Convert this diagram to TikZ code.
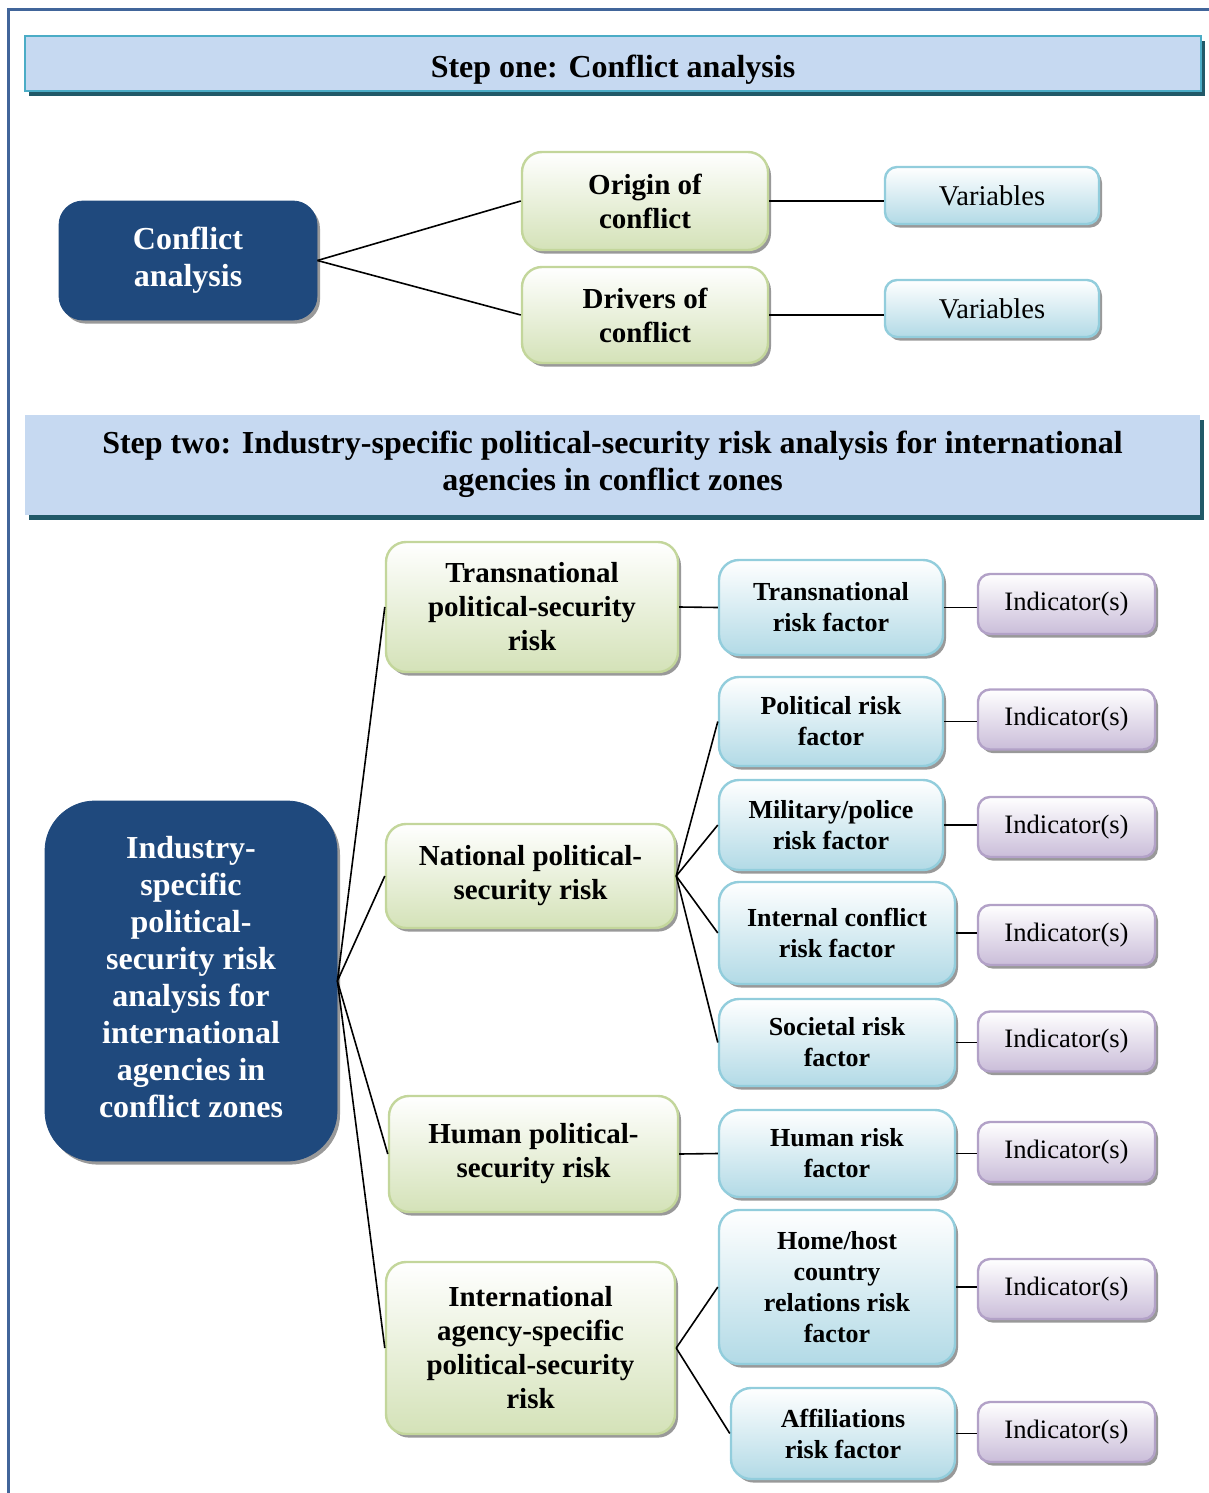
\documentclass[tikz,border=0pt]{standalone}
\usepackage{fontspec}
\setmainfont{Liberation Serif}
\usetikzlibrary{shadows}
\definecolor{framecol}{HTML}{41659A}
\definecolor{hdrfill}{HTML}{C6D9F1}
\definecolor{hdrborder}{HTML}{4BACC6}
\definecolor{hdrshadow}{HTML}{215968}
\definecolor{navy}{HTML}{1F497D}
\definecolor{grfill}{HTML}{D4E2B8}
\definecolor{grborder}{HTML}{C3D69B}
\definecolor{blfill}{HTML}{B2DAE6}
\definecolor{blborder}{HTML}{92CDDC}
\definecolor{pufill}{HTML}{CABDD9}
\definecolor{puborder}{HTML}{B2A1C7}
\begin{document}
\begin{tikzpicture}[x=0.5pt,y=-0.5pt,
  nshadow/.style={drop shadow={shadow xshift=1.5pt, shadow yshift=-1.8pt, fill=black!40, opacity=1}},
  hdr/.style={fill=hdrfill, inner sep=0pt, align=center,
    font=\bfseries\fontsize{16}{18.5}\selectfont,
    drop shadow={shadow xshift=2pt, shadow yshift=-2.5pt, fill=hdrshadow, opacity=1}},
  darkbox/.style={fill=navy, draw=navy, text=white, inner sep=0pt, align=center,
    font=\bfseries\fontsize{16}{18.5}\selectfont, nshadow},
  greenbox/.style={draw=grborder, line width=1.2pt, top color=white, bottom color=grfill,
    rounded corners=10pt, inner sep=0pt, align=center,
    font=\bfseries\fontsize{14.5}{17}\selectfont, nshadow},
  bluebox/.style={draw=blborder, line width=1.2pt, top color=white, bottom color=blfill,
    rounded corners=10pt, inner sep=0pt, align=center,
    font=\bfseries\fontsize{13}{15.5}\selectfont, nshadow},
  varbox/.style={draw=blborder, line width=1.2pt, top color=white, bottom color=blfill,
    rounded corners=6pt, inner sep=0pt, align=center,
    font=\fontsize{14.3}{17}\selectfont, minimum width=107pt, minimum height=28.5pt, nshadow},
  indbox/.style={draw=puborder, line width=1.2pt, top color=white, bottom color=pufill,
    rounded corners=6pt, inner sep=0pt, align=center,
    font=\fontsize{13.3}{16}\selectfont, minimum width=88.5pt, minimum height=30pt, nshadow},
  conn/.style={draw=black, line width=0.8pt}
]
\useasboundingbox (0,0) rectangle (1209,1493);
% outer frame
\coordinate (frTL) at (8.5,9.5);
\coordinate (frTR) at (1209,9.5);
\coordinate (frBL) at (8.5,1493);
\draw[framecol, line width=1.2pt] (frTR) -- (frTL) -- (frBL);

% Step one
\node[hdr, draw=hdrborder, line width=1pt, minimum width=588pt, minimum height=27.5pt] (h1) at (613,63.5) {\raisebox{-7.25pt}[0pt][0pt]{Step one: Conflict analysis}};
\node[darkbox, rounded corners=12pt, minimum width=129pt, minimum height=59.5pt] (ca) at (188,260.5) {Conflict\\analysis};
\node[greenbox, minimum width=123pt, minimum height=49pt] (orig) at (645,201) {Origin of\\conflict};
\node[greenbox, minimum width=123pt, minimum height=48pt] (driv) at (645,315) {Drivers of\\conflict};
\node[varbox] (v1) at (992,195.5) {Variables};
\node[varbox] (v2) at (992,308.5) {Variables};
\draw[conn] (ca.east) -- (orig.west);
\draw[conn] (ca.east) -- (driv.west);
\draw[conn] (orig.east) -- (orig.east -| v1.west);
\draw[conn] (driv.east) -- (driv.east -| v2.west);

% Step two
\node[hdr, minimum width=587.5pt, minimum height=50pt] (h2) at (612.5,464.5)
  {Step two: Industry-specific political-security risk analysis for international\\agencies in conflict zones};

\node[darkbox, rounded corners=25pt, minimum width=146pt, minimum height=180pt] (big) at (191,981)
  {\raisebox{1.5pt}{\begin{tabular}{@{}c@{}}Industry-\\specific\\political-\\security risk\\analysis for\\international\\agencies in\\conflict zones\end{tabular}}};

\node[greenbox, minimum width=146pt, minimum height=65pt] (gtr) at (532,607) {Transnational\\political-security\\risk};
\node[greenbox, minimum width=144.5pt, minimum height=52pt] (gna) at (530.5,876) {National political-\\security risk};
\node[greenbox, minimum width=144.5pt, minimum height=58pt] (ghu) at (533.5,1154) {Human political-\\security risk};
\node[greenbox, minimum width=144.5pt, minimum height=86pt] (gin) at (530.5,1348) {International\\agency-specific\\political-security\\risk};

\node[bluebox, minimum width=112pt, minimum height=47.5pt] (ftr) at (831,607.5) {Transnational\\risk factor};
\node[bluebox, minimum width=112pt, minimum height=44.5pt] (fpo) at (831,721.5) {Political risk\\factor};
\node[bluebox, minimum width=112pt, minimum height=45pt] (fmi) at (831,825) {Military/police\\risk factor};
\node[bluebox, minimum width=118pt, minimum height=51pt] (fic) at (837,933) {Internal conflict\\risk factor};
\node[bluebox, minimum width=118pt, minimum height=43.5pt] (fso) at (837,1042.5) {Societal risk\\factor};
\node[bluebox, minimum width=118pt, minimum height=43.5pt] (fhu) at (837,1153.5) {Human risk\\factor};
\node[bluebox, minimum width=118pt, minimum height=77pt] (fho) at (837,1287) {Home/host\\country\\relations risk\\factor};
\node[bluebox, minimum width=112pt, minimum height=45.5pt] (faf) at (843,1433.5) {Affiliations\\risk factor};

\node[indbox] (i1) at (1066.5,604) {Indicator(s)};
\node[indbox] (i2) at (1066.5,719.5) {Indicator(s)};
\node[indbox] (i3) at (1066.5,827) {Indicator(s)};
\node[indbox] (i4) at (1066.5,935) {Indicator(s)};
\node[indbox] (i5) at (1066.5,1041.5) {Indicator(s)};
\node[indbox] (i6) at (1066.5,1152) {Indicator(s)};
\node[indbox] (i7) at (1066.5,1289) {Indicator(s)};
\node[indbox] (i8) at (1066.5,1432) {Indicator(s)};

\draw[conn] (big.east) -- (gtr.west);
\draw[conn] (big.east) -- (gna.west);
\draw[conn] (big.east) -- (ghu.west);
\draw[conn] (big.east) -- (gin.west);
\draw[conn] (gtr.east) -- (ftr.west);
\draw[conn] (gna.east) -- (fpo.west);
\draw[conn] (gna.east) -- (fmi.west);
\draw[conn] (gna.east) -- (fic.west);
\draw[conn] (gna.east) -- (fso.west);
\draw[conn] (ghu.east) -- (fhu.west);
\draw[conn] (gin.east) -- (fho.west);
\draw[conn] (gin.east) -- (faf.west);
\draw[conn] (ftr.east) -- (ftr.east -| i1.west);
\draw[conn] (fpo.east) -- (fpo.east -| i2.west);
\draw[conn] (fmi.east) -- (fmi.east -| i3.west);
\draw[conn] (fic.east) -- (fic.east -| i4.west);
\draw[conn] (fso.east) -- (fso.east -| i5.west);
\draw[conn] (fhu.east) -- (fhu.east -| i6.west);
\draw[conn] (fho.east) -- (fho.east -| i7.west);
\draw[conn] (faf.east) -- (faf.east -| i8.west);
\end{tikzpicture}
\end{document}
